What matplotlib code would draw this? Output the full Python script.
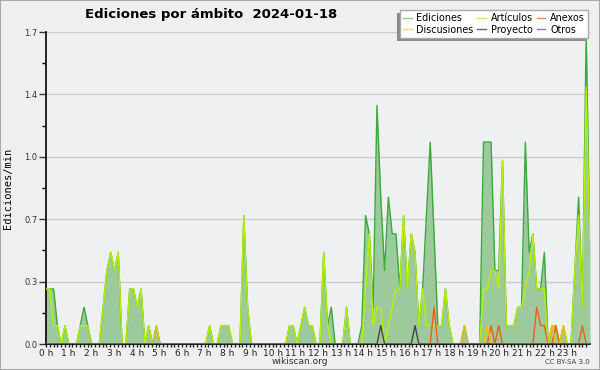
import numpy as np
import matplotlib
matplotlib.use("Agg")
import matplotlib.pyplot as plt
from matplotlib.lines import Line2D
from matplotlib.patches import Rectangle

# edits per minute, 10-minute bins over the day (values in tenths)
ediciones = [3,3,3,1,0,1,0,0,0,1,
             2,1,0,0,0,2,4,5,4,5,
             0,0,3,3,2,3,0,1,0,1,
             0,0,0,0,0,0,0,0,0,0,
             0,0,0,1,0,0,1,1,1,0,
             0,0,7,2,0,0,0,0,0,0,
             0,0,0,0,1,1,0,1,2,1,
             1,0,0,5,1,2,0,0,0,2,
             0,0,0,1,7,6,2,13,8,4,
             8,6,6,3,7,3,6,5,1,3,
             7,11,6,1,1,3,1,0,0,0,
             1,0,0,0,0,11,11,11,4,4,
             10,1,1,1,2,2,11,5,6,3,
             3,5,0,1,1,0,1,0,0,4,
             8,2,17,5]
articulos = [3,3,1,1,0,1,0,0,0,1,
             1,1,0,0,0,2,4,5,4,5,
             0,0,3,3,2,3,0,1,0,0,
             0,0,0,0,0,0,0,0,0,0,
             0,0,0,1,0,0,1,1,1,0,
             0,0,7,2,0,0,0,0,0,0,
             0,0,0,0,1,1,0,1,2,1,
             1,0,0,5,1,0,0,0,0,2,
             0,0,0,0,3,6,1,2,2,0,
             1,2,3,3,7,3,6,5,1,3,
             1,1,1,1,1,3,1,0,0,0,
             0,0,0,0,0,3,3,4,4,3,
             10,1,1,1,2,2,3,4,6,3,
             3,3,0,1,1,0,1,0,0,4,
             7,2,14,5]
anexos = [0]*144
for i, v in [(102, 2), (117, 1), (119, 1), (129, 2), (130, 1), (131, 1), (134, 1), (141, 1)]:
    anexos[i] = v
discusiones = [0]*144
for i, v in [(29, 1), (110, 1), (116, 1), (133, 1), (136, 1)]:
    discusiones[i] = v
proyecto = [0]*144
for i, v in [(88, 1), (97, 1)]:
    proyecto[i] = v
otros = [0]*144

hours = np.arange(144) * 24 / 143
tick_labels = [str(h) + " h" for h in range(24)]

e = np.array(ediciones) / 10
a = np.array(articulos) / 10
an = np.array(anexos) / 10
d = np.array(discusiones) / 10
p = np.array(proyecto) / 10
o = np.array(otros) / 10

fig = plt.figure(figsize=(6, 3.7), dpi=100, facecolor="#efefef")
ax = fig.add_axes([46/600, 1-344/370, 544/600, 312/370])
ax.set_facecolor("#eef0f2")

ax.fill_between(hours, 0, e, color="#9dca9d", lw=0, zorder=2)
ax.plot(hours, e, color="#3aaa3a", lw=1.0, zorder=3)
ax.plot(hours, a, color="#b8f000", lw=1.0, zorder=4)
ax.plot(hours, an, color="#ee6010", lw=1.0, zorder=5)
ax.plot(hours, d, color="#f5c000", lw=1.0, zorder=5)
ax.plot(hours, p, color="#444444", lw=1.0, zorder=5)
ax.plot(hours, o, color="#9050e0", lw=1.0, zorder=5)

ax.set_xlim(0, 24)
ax.set_ylim(0, 1.7)
yt = np.linspace(0, 1.7, 6)
ax.set_yticks(yt)
ax.set_yticklabels(["%.1f" % v for v in yt])
ax.set_yticks(yt[:-1] + 0.17, minor=True)
ax.set_xticks(range(24))
ax.set_xticklabels(tick_labels)
ax.set_xticks(np.arange(0, 24, 1/6), minor=True)
ax.yaxis.grid(True, color="#cccccc", lw=1.0, zorder=1)
ax.set_axisbelow(True)
for s in ["top", "right"]:
    ax.spines[s].set_visible(False)
ax.spines["left"].set_linewidth(1.2)
ax.spines["bottom"].set_linewidth(1.2)
ax.tick_params(axis="y", which="major", length=5, width=1, labelsize=6, colors="#333333", pad=1)
ax.tick_params(axis="y", which="minor", length=3, width=1)
ax.tick_params(axis="x", which="both", length=2.5, width=1, labelsize=6.5, colors="#222222", pad=1)

ax.set_ylabel("Ediciones/min", family="DejaVu Sans Mono", fontsize=7.5, labelpad=8)
fig.text(85/600, 1-18/370, "Ediciones por ámbito  2024-01-18", fontsize=9.5,
         fontweight="bold", ha="left", va="baseline")
fig.text(300/600, 1-361/370, "wikiscan.org", fontsize=6.5, ha="center", va="center", color="#333333")
fig.text(590/600, 1-362/370, "CC BY-SA 3.0", fontsize=5, ha="right", va="center", color="#444444")

handles = [Line2D([], [], color="#88cc88", lw=1), Line2D([], [], color="#eedd55", lw=1),
           Line2D([], [], color="#ccee55", lw=1), Line2D([], [], color="#666666", lw=1),
           Line2D([], [], color="#ee8855", lw=1), Line2D([], [], color="#9966ee", lw=1)]
labels = ["Ediciones", "Discusiones", "Artículos", "Proyecto", "Anexos", "Otros"]
leg = fig.legend(handles, labels, ncol=3, loc="upper right", bbox_to_anchor=(588/600, 1-10/370),
                 fontsize=6.9, handlelength=0.9, handletextpad=0.5, columnspacing=0.4,
                 labelspacing=0.2, borderpad=0.3, borderaxespad=0, fancybox=False,
                 framealpha=1, edgecolor="#aaaaaa", facecolor="white")
leg.set_zorder(10)

# legend shadow, offset to the lower left as in the original
fig.canvas.draw()
bb = leg.get_window_extent().transformed(fig.transFigure.inverted())
fig.patches.append(Rectangle((bb.x0 - 3/600, bb.y0 - 3/370), bb.width, bb.height,
                             transform=fig.transFigure, facecolor="#8a8a8a",
                             edgecolor="none", zorder=9))

fig.patches.append(Rectangle((0, 0), 1, 1, transform=fig.transFigure, fill=False,
                             edgecolor="#aaaaaa", lw=1.5))
fig.savefig("out.png", dpi=100, facecolor=fig.get_facecolor())
